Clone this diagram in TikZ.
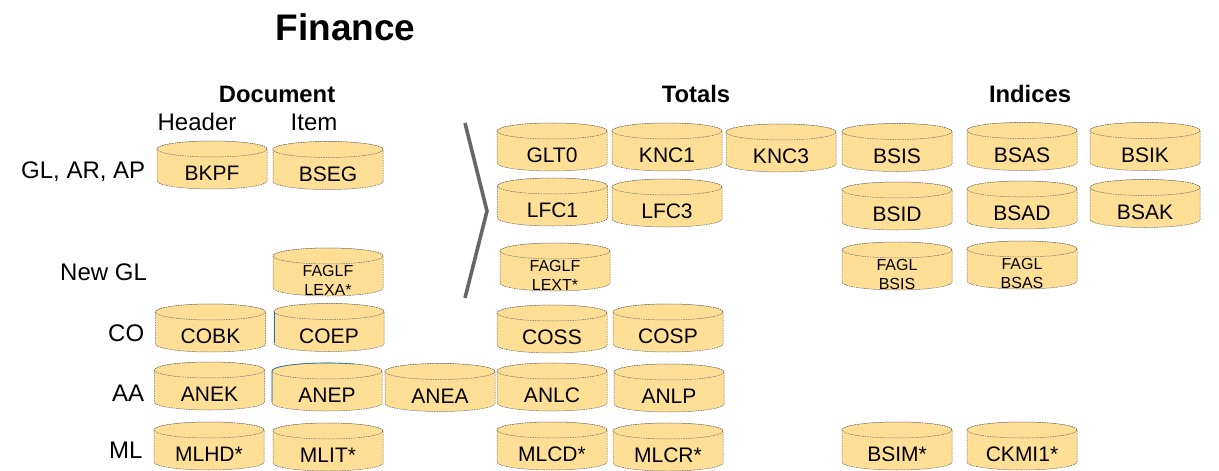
\documentclass[tikz,border=0pt]{standalone}
\usepackage{fontspec}
\setmainfont{Liberation Sans}
\definecolor{dbfill}{HTML}{FFDF95}
\definecolor{dbline}{HTML}{666666}
\definecolor{chev}{HTML}{666666}
\definecolor{edgeblue}{HTML}{1F6FB0}
\newcommand\dbshape[2]{%
  \path[dbedge] (#1,#2) ++(0,8) -- ++(0,32) arc[start angle=180,end angle=360,x radius=55pt,y radius=8pt] -- ++(0,-32) arc[start angle=0,end angle=180,x radius=55pt,y radius=8pt] -- cycle;
  \path[dbedge] (#1,#2) ++(55,8) ellipse[x radius=55pt,y radius=8pt];
}
% name, left, top, text
\newcommand\dbcyl[4]{%
  \dbshape{#2}{#3}
  \node[dbtext] (#1) at ([shift={(55,39.5)}]#2,#3) {#4};
}
% name, left, top, line 1, line 2
\newcommand\dbcyltwo[5]{%
  \dbshape{#2}{#3}
  \node[dbsmall] (#1a) at ([shift={(55,28.5)}]#2,#3) {#4};
  \node[dbsmall] (#1b) at ([shift={(55,47.5)}]#2,#3) {#5};
}
\tikzset{
  dbedge/.style={draw=dbline,fill=dbfill,line width=0.5pt,dash pattern=on 1.6pt off 0.9pt},
  dbtext/.style={anchor=base,inner sep=0pt,font=\fontsize{21}{21}\selectfont},
  dbsmall/.style={anchor=base,inner sep=0pt,font=\fontsize{16}{16}\selectfont},
  heading/.style={inner sep=0pt,font=\fontsize{23.8}{24}\selectfont\bfseries},
  plain/.style={inner sep=0pt,font=\fontsize{24}{24}\selectfont},
  rowlabel/.style={inner sep=0pt,anchor=west,font=\fontsize{24}{24}\selectfont},
  blueedge/.style={draw=edgeblue,line width=0.6pt},
}
\begin{document}
\begin{tikzpicture}[x=1pt,y=-1pt]
\useasboundingbox (0,0) rectangle (1219,471);
\node[inner sep=0pt,font=\fontsize{37}{37}\selectfont\bfseries] (title) at (345.5,27) {Finance};
\node[heading] (document) at (277,94) {Document};
\node[heading] (totals) at (696,94) {Totals};
\node[heading] (indices) at (1030,94) {Indices};
\node[plain] (header) at (197,122) {Header};
\node[plain] (item) at (314,122) {Item};
\node[rowlabel] (rgl) at (21,172) {GL, AR, AP};
\node[rowlabel] (rnew) at (60,272) {New GL};
\node[rowlabel] (rco) at (108,333) {CO};
\node[rowlabel] (raa) at (112,393) {AA};
\node[rowlabel] (rml) at (109,450) {ML};

\dbcyl{bkpf}{157}{141}{BKPF}
\dbcyl{bseg}{273}{141.5}{BSEG}
\dbcyltwo{lexa}{273}{248}{FAGLF}{LEXA*}
\dbcyl{cobk}{155.5}{304}{COBK}
\dbcyl{coep}{274}{303.5}{COEP}
\path[blueedge] (274,311.5) -- (274,343);
\dbcyl{anek}{154.5}{362}{ANEK}
\dbcyl{anep}{272}{363}{ANEP}
\path[blueedge] (272,402) -- (272,371) arc[start angle=180,end angle=90,x radius=55pt,y radius=8pt] arc[start angle=90,end angle=60,x radius=55pt,y radius=8pt];
\dbcyl{anea}{385}{363.5}{ANEA}
\dbcyl{mlhd}{154}{422}{MLHD*}
\dbcyl{mlit}{273}{423}{MLIT*}

\dbcyl{glt}{497}{123}{GLT0}
\dbcyl{knca}{612}{123}{KNC1}
\dbcyl{kncc}{726}{124}{KNC3}
\dbcyl{lfca}{497.5}{178}{LFC1}
\dbcyl{lfcc}{612}{179}{LFC3}
\dbcyltwo{lext}{500}{243}{FAGLF}{LEXT*}
\dbcyl{coss}{497}{305}{COSS}
\dbcyl{cosp}{613}{304}{COSP}
\dbcyl{anlc}{497}{363}{ANLC}
\dbcyl{anlp}{614}{364}{ANLP}
\dbcyl{mlcd}{497}{422}{MLCD*}
\dbcyl{mlcr}{613}{423}{MLCR*}

\dbcyl{bsis}{842}{123.5}{BSIS}
\dbcyl{bsas}{967}{122.5}{BSAS}
\dbcyl{bsik}{1090}{122.5}{BSIK}
\dbcyl{bsid}{842}{182}{BSID}
\dbcyl{bsad}{967}{181}{BSAD}
\dbcyl{bsak}{1090}{179.5}{BSAK}
\dbcyltwo{fbsis}{842}{242}{FAGL}{BSIS}
\dbcyltwo{fbsas}{967}{241}{FAGL}{BSAS}
\dbcyl{bsim}{842}{422}{BSIM*}
\dbcyl{ckmi}{967}{422}{CKMI1*}

\coordinate (cha) at (465,123);
\coordinate (chb) at (487,211);
\coordinate (chc) at (465,298);
\draw[chev,line width=3.6pt,miter limit=10] (cha) -- (chb) -- (chc);
\end{tikzpicture}
\end{document}
